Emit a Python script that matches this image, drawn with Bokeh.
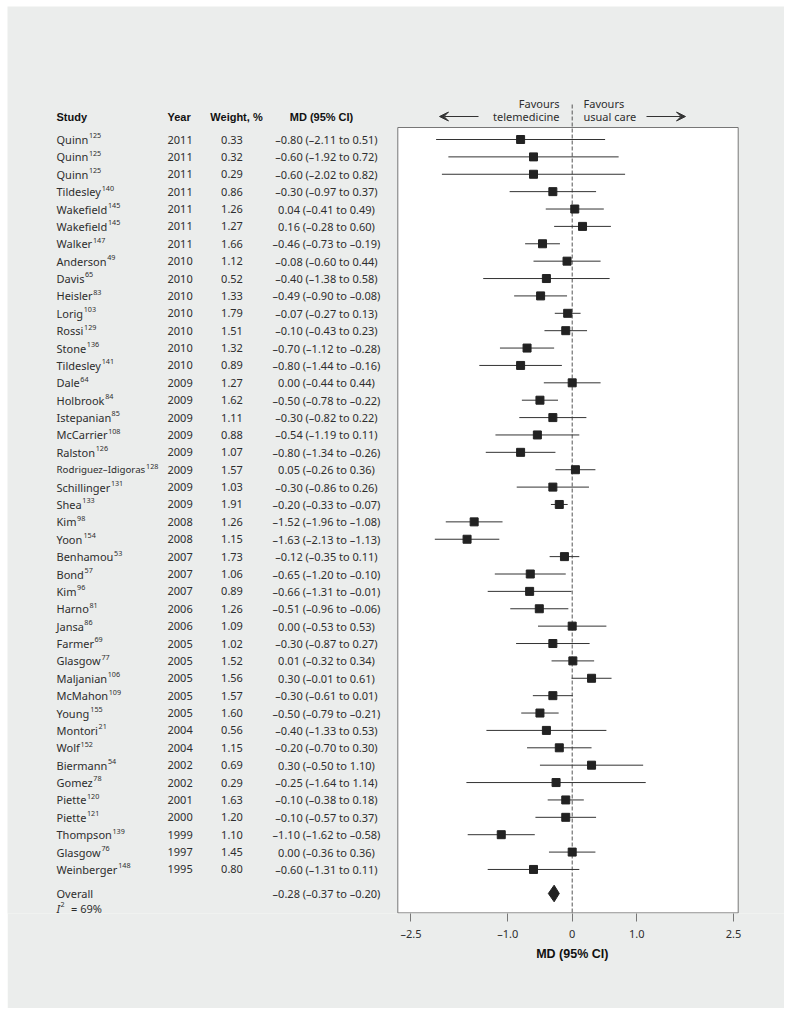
from bokeh.plotting import figure
from bokeh.models import Range1d, FixedTicker, ColumnDataSource, Title, Arrow, VeeHead
from bokeh.core.properties import value
from bokeh.embed import file_html
from bokeh.resources import INLINE

# ---------------- data ----------------
study = ["Quinn", "Quinn", "Quinn", "Tildesley", "Wakefield", "Wakefield", "Walker",
         "Anderson", "Davis", "Heisler", "Lorig", "Rossi", "Stone", "Tildesley",
         "Dale", "Holbrook", "Istepanian", "McCarrier", "Ralston", "Rodriguez\u2013Idigoras",
         "Schillinger", "Shea", "Kim", "Yoon", "Benhamou", "Bond", "Kim", "Harno", "Jansa",
         "Farmer", "Glasgow", "Maljanian", "McMahon", "Young", "Montori", "Wolf",
         "Biermann", "Gomez", "Piette", "Piette", "Thompson", "Glasgow", "Weinberger"]
ref = [125, 125, 125, 140, 145, 145, 147, 49, 65, 83, 103, 129, 136, 141, 64, 84, 85,
       108, 126, 128, 131, 133, 98, 154, 53, 57, 96, 81, 86, 69, 77, 106, 109, 155, 21,
       152, 54, 78, 120, 121, 139, 76, 148]
year = [2011, 2011, 2011, 2011, 2011, 2011, 2011, 2010, 2010, 2010, 2010, 2010, 2010, 2010,
        2009, 2009, 2009, 2009, 2009, 2009, 2009, 2009, 2008, 2008, 2007, 2007, 2007, 2006,
        2006, 2005, 2005, 2005, 2005, 2005, 2004, 2004, 2002, 2002, 2001, 2000, 1999, 1997, 1995]
weight = [0.33, 0.32, 0.29, 0.86, 1.26, 1.27, 1.66, 1.12, 0.52, 1.33, 1.79, 1.51, 1.32, 0.89,
          1.27, 1.62, 1.11, 0.88, 1.07, 1.57, 1.03, 1.91, 1.26, 1.15, 1.73, 1.06, 0.89, 1.26,
          1.09, 1.02, 1.52, 1.56, 1.57, 1.60, 0.56, 1.15, 0.69, 0.29, 1.63, 1.20, 1.10, 1.45, 0.80]
md = [-0.80, -0.60, -0.60, -0.30, 0.04, 0.16, -0.46, -0.08, -0.40, -0.49, -0.07, -0.10, -0.70,
      -0.80, 0.00, -0.50, -0.30, -0.54, -0.80, 0.05, -0.30, -0.20, -1.52, -1.63, -0.12, -0.65,
      -0.66, -0.51, 0.00, -0.30, 0.01, 0.30, -0.30, -0.50, -0.40, -0.20, 0.30, -0.25, -0.10,
      -0.10, -1.10, 0.00, -0.60]
lo = [-2.11, -1.92, -2.02, -0.97, -0.41, -0.28, -0.73, -0.60, -1.38, -0.90, -0.27, -0.43, -1.12,
      -1.44, -0.44, -0.78, -0.82, -1.19, -1.34, -0.26, -0.86, -0.33, -1.96, -2.13, -0.35, -1.20,
      -1.31, -0.96, -0.53, -0.87, -0.32, -0.01, -0.61, -0.79, -1.33, -0.70, -0.50, -1.64, -0.38,
      -0.57, -1.62, -0.36, -1.31]
hi = [0.51, 0.72, 0.82, 0.37, 0.49, 0.60, -0.19, 0.44, 0.58, -0.08, 0.13, 0.23, -0.28, -0.16,
      0.44, -0.22, 0.22, 0.11, -0.26, 0.36, 0.26, -0.07, -1.08, -1.13, 0.11, -0.10, -0.01, -0.06,
      0.53, 0.27, 0.34, 0.61, 0.01, -0.21, 0.53, 0.30, 1.10, 1.14, 0.18, 0.37, -0.58, 0.36, 0.11]
overall_md, overall_lo, overall_hi = -0.28, -0.37, -0.20
i2_value = "69%"
tick_values = [-2.5, -1.0, 0.0, 1.0, 2.5]
tick_labels = ["\u20132.5", "\u20131.0", "0", "1.0", "2.5"]
headers = ["Study", "Year", "Weight, %", "MD (95% CI)"]
axis_title = "MD (95% CI)"
favours_left = ["Favours", "telemedicine"]
favours_right = ["Favours", "usual care"]

# ---------------- helpers ----------------
# approximate Noto Sans advance widths (per 1000 em) to place superscript references
ADV = dict(zip("abcdefghijklmnopqrstuvwxyz",
               [561, 615, 480, 615, 564, 344, 615, 618, 258, 258, 534, 258, 935, 618, 605,
                615, 615, 413, 479, 361, 618, 508, 786, 529, 510, 470]))
ADV.update(zip("ABCDEFGHIJKLMNOPQRSTUVWXYZ",
               [639, 656, 632, 727, 556, 515, 722, 739, 312, 253, 621, 524, 907, 765, 779,
                603, 779, 630, 549, 553, 733, 600, 930, 580, 565, 565]))
ADV["\u2013"] = 500


def text_px(s, size):
    return sum(ADV.get(c, 560) for c in s) * size / 1000.0


def fmt(v):
    s = f"{abs(v):.2f}"
    return ("\u2013" + s) if v < 0 else s


def ci_text(m, a, b):
    return f"{fmt(m)} ({fmt(a)} to {fmt(b)})"


# ---------------- geometry (pixel calibration) ----------------
OFFX, OFFY = 7, 6            # page position of the figure
W, H = 777, 1002
PXU = 64.5                   # pixels per MD unit
ZERO = 571.7 - OFFX          # x pixel of MD = 0 inside the figure
ROW = 17.38                  # pixels per row
ROW1 = 139.0 - OFFY          # y pixel of first row inside the figure
FRAME_BOTTOM = 913.0 - OFFY
FS = 11                      # body font size (px)
NAME_MAX = 89                # room for a study name before the year column (px)

x0 = -ZERO / PXU
x1 = (W - ZERO) / PXU
y_top = 1 - ROW1 / ROW
y_bot = 1 + (FRAME_BOTTOM - ROW1) / ROW


def xd(px):
    return (px - OFFX - ZERO) / PXU


def yd(py):
    return 1 + (py - OFFY - ROW1) / ROW


xs_study = xd(56)
xs_year = xd(167)
xs_weight = xd(231.5)
xs_ci = xd(326)

# long names are set slightly condensed, as in the original table
name_fs = [min(FS, FS * NAME_MAX / text_px(s, FS)) for s in study]

n = len(study)
rows = list(range(1, n + 1))
src = ColumnDataSource(dict(
    y=rows, name=study, sup=[str(r) for r in ref],
    name_fs=[f"{f:.2f}px" for f in name_fs],
    sup_x=[xs_study + (text_px(s, f) + 0.6) / PXU for s, f in zip(study, name_fs)],
    year=[str(v) for v in year],
    weight=[f"{w:.2f}" for w in weight],
    ci=[ci_text(m, a, b) for m, a, b in zip(md, lo, hi)],
    md=md, lo=lo, hi=hi,
))

BG = "#ebedec"
TXT = "#2e2e2e"
BODY = value("Noto Sans")
HEAD = value("Liberation Sans")

p = figure(width=W, height=H, x_range=Range1d(x0, x1), y_range=Range1d(y_bot, y_top),
           output_backend="svg", toolbar_location=None, y_axis_location=None,
           min_border_left=0, min_border_right=0, min_border_top=0,
           min_border_bottom=int(H - FRAME_BOTTOM),
           background_fill_color=BG, border_fill_color=BG, outline_line_color=None)
p.margin = (OFFY, 0, 0, OFFX)
p.grid.visible = False

# plot box
box_bottom = y_bot - 0.6 / ROW
p.quad(left=[xd(397.3)], right=[xd(737.7)], top=[yd(127)], bottom=[box_bottom],
       fill_color="white", line_color="#777777", line_width=1)

# reference line at 0
p.segment(x0=[0], x1=[0], y0=[yd(104)], y1=[box_bottom], line_color="#555555",
          line_width=1, line_dash="4 2")

# CIs and point estimates
p.segment(x0="lo", x1="hi", y0="y", y1="y", source=src, line_color="#333333", line_width=1)
p.scatter(x="md", y="y", source=src, marker="square", size=8, fill_color="#222222",
          line_color="#222222")

# overall diamond
oy = yd(893)
dh = 8.3 / ROW
p.patch(x=[overall_lo, overall_md, overall_hi, overall_md], y=[oy, oy - dh, oy, oy + dh],
        fill_color="#222222", line_color="#222222")

# table text
common = dict(text_font=BODY, text_font_size=f"{FS}px", text_baseline="middle",
              text_color=TXT)
supc = dict(text_font=BODY, text_font_size="7.2px", text_baseline="middle",
            text_color=TXT, y_offset=-3.6)
p.text(x=xs_study, y="y", text="name", source=src, text_align="left", text_font=BODY,
       text_font_size="name_fs", text_baseline="middle", text_color=TXT)
p.text(x="sup_x", y="y", text="sup", source=src, text_align="left", **supc)
p.text(x=xs_year, y="y", text="year", source=src, text_align="left", **common)
p.text(x=xs_weight, y="y", text="weight", source=src, text_align="center", **common)
p.text(x=xs_ci, y="y", text="ci", source=src, text_align="center", **common)

# headers
hy = yd(116)
hcommon = dict(text_font=HEAD, text_font_size="11px", text_font_style="bold",
               text_baseline="middle", text_color="#111111")
p.text(x=[xs_study], y=[hy], text=[headers[0]], text_align="left", **hcommon)
p.text(x=[xs_year], y=[hy], text=[headers[1]], text_align="left", **hcommon)
p.text(x=[xd(236)], y=[hy], text=[headers[2]], text_align="center", **hcommon)
p.text(x=[xd(321)], y=[hy], text=[headers[3]], text_align="center", **hcommon)

# overall row and heterogeneity
p.text(x=[xs_study], y=[oy], text=["Overall"], text_align="left", **common)
p.text(x=[xs_ci], y=[oy], text=[ci_text(overall_md, overall_lo, overall_hi)],
       text_align="center", **common)
iy = yd(908)
p.text(x=[xs_study], y=[iy], text=["I"], text_align="left", text_font_style="italic", **common)
p.text(x=[xs_study], y=[iy], text=["2"], text_align="left", x_offset=4.0, **supc)
p.text(x=[xs_study], y=[iy], text=["= " + i2_value], text_align="left", x_offset=14.5,
       **common)

# favours labels and arrows
fy1, fy2 = yd(103), yd(116)
p.text(x=[xd(559)] * 2, y=[fy1, fy2], text=favours_left, text_align="right", **common)
p.text(x=[xd(583)] * 2, y=[fy1, fy2], text=favours_right, text_align="left", **common)
p.add_layout(Arrow(end=VeeHead(size=9, fill_color="#333333", line_color="#333333"),
                   x_start=xd(478), y_start=fy2, x_end=xd(439), y_end=fy2,
                   line_color="#333333", line_width=1.2))
p.add_layout(Arrow(end=VeeHead(size=9, fill_color="#333333", line_color="#333333"),
                   x_start=xd(646), y_start=fy2, x_end=xd(685), y_end=fy2,
                   line_color="#333333", line_width=1.2))

# x axis
ax = p.xaxis[0]
ax.ticker = FixedTicker(ticks=tick_values)
ax.major_label_overrides = {v: t for v, t in zip(tick_values, tick_labels)}
ax.axis_line_color = None
ax.minor_tick_line_color = None
ax.major_tick_in = 0
ax.major_tick_out = 8
ax.major_tick_line_color = "#777777"
ax.major_label_text_font = "Noto Sans"
ax.major_label_text_font_size = "11px"
ax.major_label_text_color = TXT
ax.major_label_standoff = 4

# axis title, centred under the MD = 0 line
title_w = 72
p.add_layout(Title(text=axis_title, align="left", offset=ZERO - title_w / 2, standoff=2,
                   text_font="Liberation Sans", text_font_style="bold",
                   text_font_size="12.5px", text_color="#111111"), "below")

open("out.html", "w").write(file_html(p, INLINE))
